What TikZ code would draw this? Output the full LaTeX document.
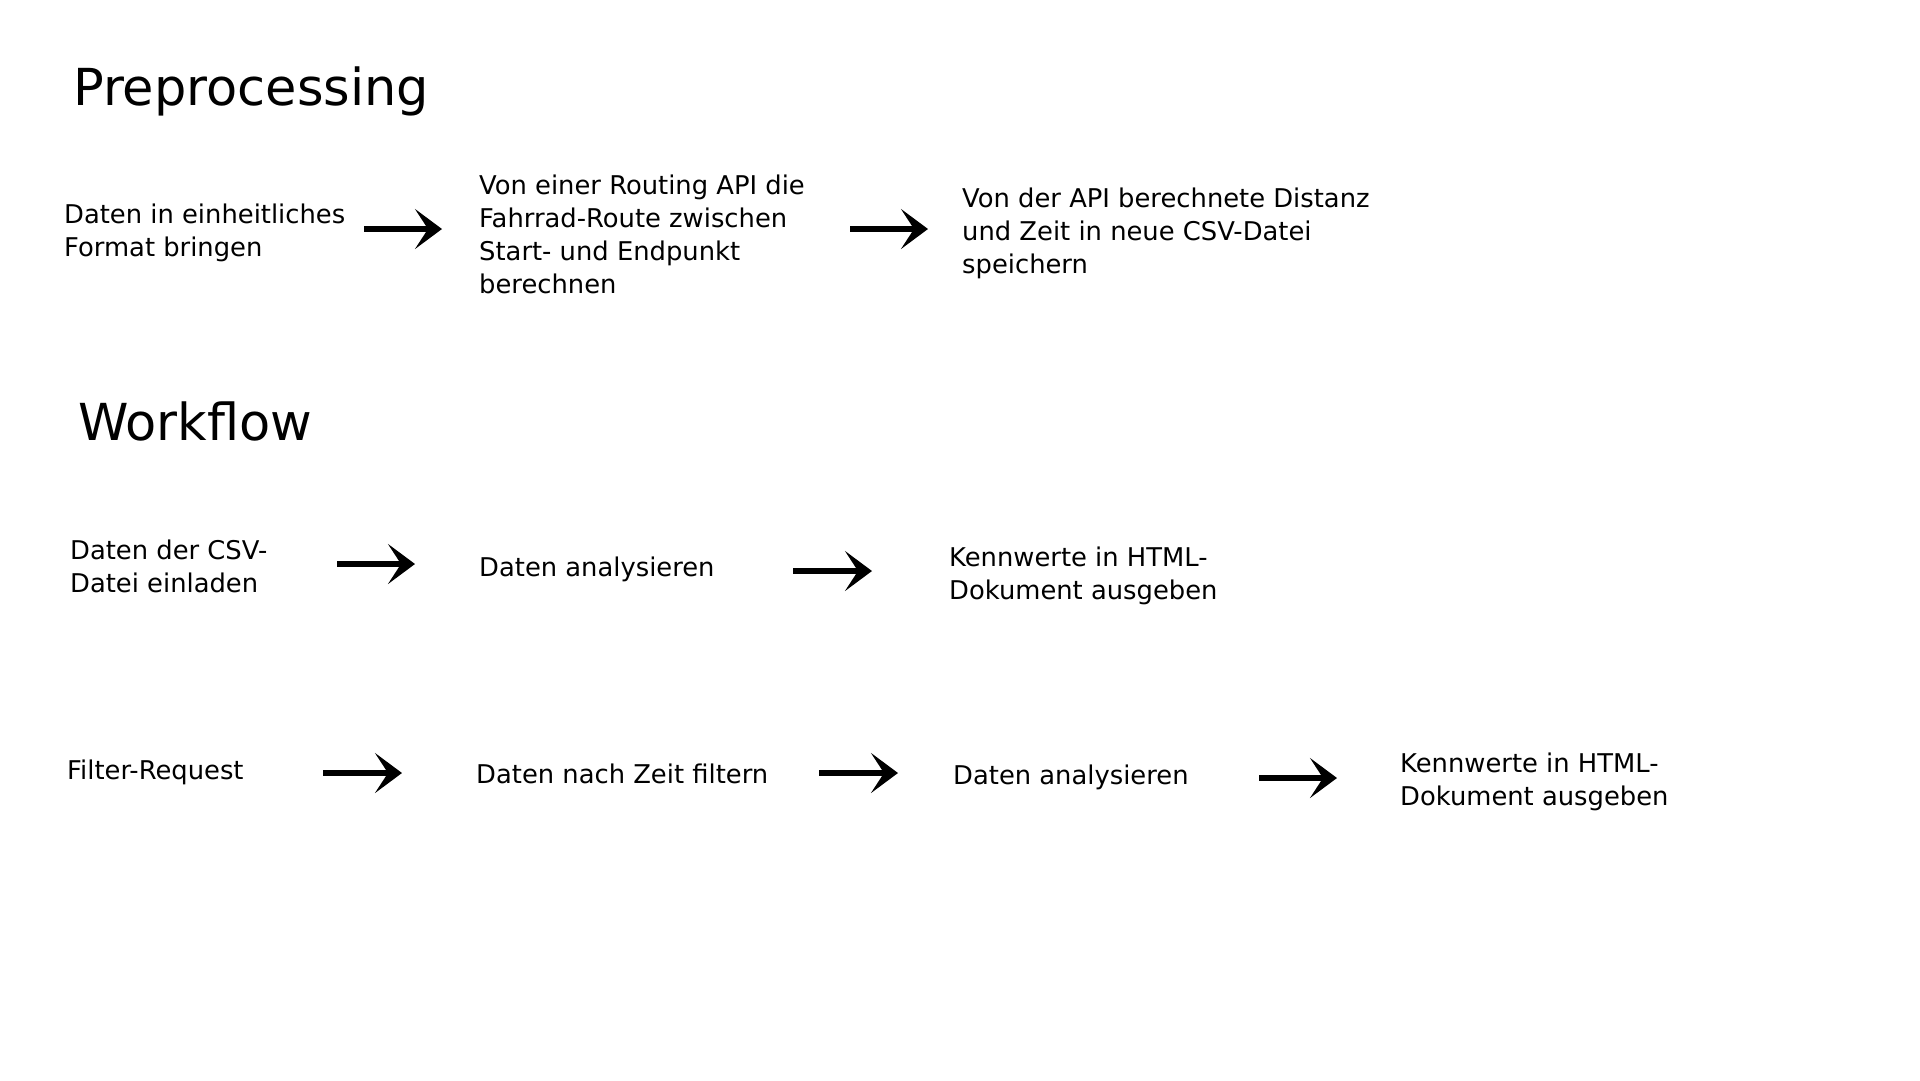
\documentclass[tikz,border=0pt]{standalone}
\usepackage{fontspec}
\setmainfont{DejaVu Sans}
\usetikzlibrary{arrows.meta}
\tikzset{
  txt/.style={anchor=west, inner sep=0pt, align=left, font=\fontsize{25.8}{33}\selectfont},
  ttl/.style={anchor=west, inner sep=0pt, font=\fontsize{51}{60}\selectfont},
  flow/.style={line width=6pt, -{Stealth[length=27pt,width=40pt,inset=13pt]}}
}
\begin{document}
\begin{tikzpicture}[x=1pt,y=-1pt]
\useasboundingbox[fill=white] (0,0) rectangle (1920,1080);
% titles
\node[ttl] (t1) at (73,91) {Preprocessing};
\node[ttl] (t2) at (78,421) {Workflow};
% row 1
\node[txt] (p1) at (64,233) {Daten in einheitliches\\Format bringen};
\node[txt] (p2) at (479,234) {Von einer Routing API die\\Fahrrad-Route zwischen\\Start- und Endpunkt\\berechnen};
\node[txt] (p3) at (962,233) {Von der API berechnete Distanz\\und Zeit in neue CSV-Datei\\speichern};
\coordinate (a1s) at (364,229); \coordinate (a1e) at (442,229);
\coordinate (a2s) at (850,229); \coordinate (a2e) at (928,229);
\draw[flow] (a1s) -- (a1e);
\draw[flow] (a2s) -- (a2e);
% row 2
\node[txt] (w1) at (70,566) {Daten der CSV-\\Datei einladen};
\node[txt] (w2) at (479,569) {Daten analysieren};
\node[txt] (w3) at (949,576) {Kennwerte in HTML-\\Dokument ausgeben};
\coordinate (b1s) at (337,564); \coordinate (b1e) at (415,564);
\coordinate (b2s) at (793,571); \coordinate (b2e) at (872,571);
\draw[flow] (b1s) -- (b1e);
\draw[flow] (b2s) -- (b2e);
% row 3
\node[txt] (f1) at (67,772) {Filter-Request};
\node[txt] (f2) at (476,774) {Daten nach Zeit filtern};
\node[txt] (f3) at (953,777) {Daten analysieren};
\node[txt] (f4) at (1400,782) {Kennwerte in HTML-\\Dokument ausgeben};
\coordinate (c1s) at (323,773); \coordinate (c1e) at (402,773);
\coordinate (c2s) at (819,773); \coordinate (c2e) at (898,773);
\coordinate (c3s) at (1259,778); \coordinate (c3e) at (1337,778);
\draw[flow] (c1s) -- (c1e);
\draw[flow] (c2s) -- (c2e);
\draw[flow] (c3s) -- (c3e);
\end{tikzpicture}
\end{document}
